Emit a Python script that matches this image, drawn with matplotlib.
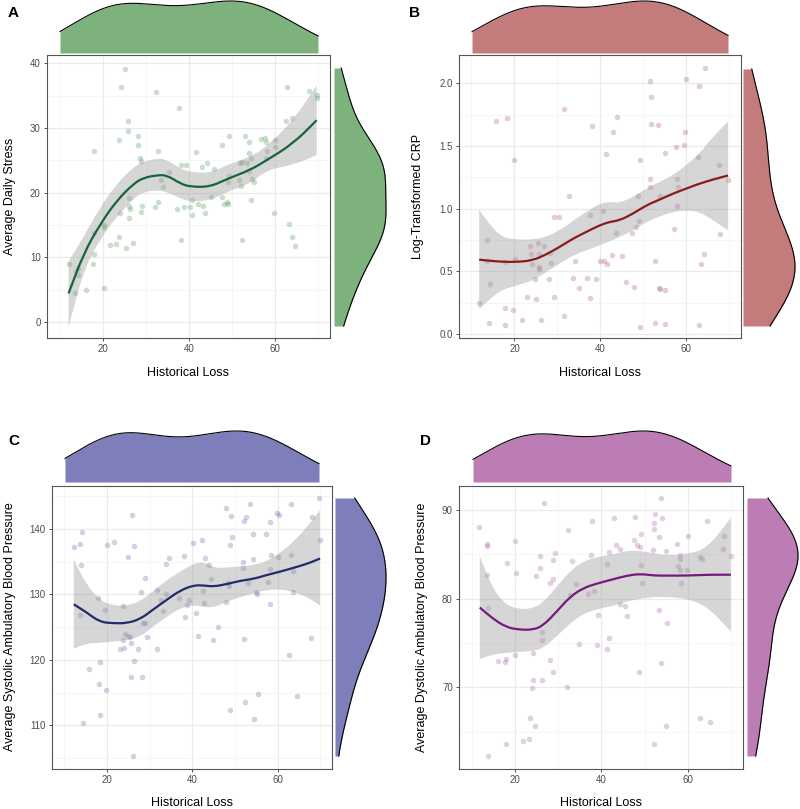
import numpy as np
import matplotlib
matplotlib.use("Agg")
import matplotlib.pyplot as plt
from matplotlib.ticker import MultipleLocator
from matplotlib.path import Path
from matplotlib.patches import PathPatch

plt.rcParams['font.family'] = ['Liberation Sans', 'DejaVu Sans']

W, H = 800, 809

# ---------------- Panel A: Average Daily Stress ----------------
a_pts = [(12.1,9.0),(13.9,7.9),(14.2,8.3),(14.4,7.2),(13.7,4.5),(16.2,5.0),(18.1,26.5),(17.9,13.8),
         (17.9,10.5),(17.8,8.9),(20.2,15.0),(20.4,14.7),(20.2,5.2),(21.8,11.9),(23.2,12.0),(23.8,13.2),
         (23.8,28.2),(24.2,36.3),(25.2,39.2),(24.1,16.9),(25.5,11.5),(25.9,31.1),(25.8,29.6),(26.0,19.1),
         (26.0,18.0),(26.2,16.0),(26.4,17.5),(27.0,12.2),(28.1,28.7),(28.3,27.4),(28.7,25.3),(28.9,24.9),
         (28.9,17.0),(29.2,17.9),(32.3,35.5),(32.9,26.4),(32.2,17.8),(32.8,18.6),(33.6,22.0),(34.1,20.9),
         (35.3,23.2),(37.8,33.1),(38.2,24.3),(39.4,24.2),(38.2,12.6),(37.3,17.4),(38.9,17.7),(40.3,17.8),
         (40.7,18.9),(40.6,16.6),(41.7,26.3),(42.1,18.3),(43.0,24.0),(43.2,17.9),(43.7,16.9),(44.1,24.6),
         (45.1,19.4),(45.9,23.6),(47.6,27.4),(47.6,19.4),(48.1,18.2),(48.8,18.6),(49.2,28.7),(49.2,22.6),
         (49.1,21.7),(49.1,18.2),(51.7,22.0),(51.8,24.6),(52.2,24.8),(52.0,21.0),(52.3,12.6),(53.1,28.7),
         (53.4,24.6),(54.0,27.8),(54.0,26.2),(54.0,23.4),(54.3,18.8),(54.5,25.3),(54.7,22.1),(55.1,21.7),
         (56.6,28.3),(57.6,28.5),(57.8,25.3),(57.9,27.9),(58.0,26.4),(59.8,16.8),(60.0,28.1),(60.0,27.0),
         (62.8,36.4),(62.6,31.1),(63.1,15.2),(64.0,31.5),(63.9,13.2),(64.6,11.8),(67.9,35.8),(69.6,35.1),
         (69.6,34.7)]
a_sx = [12.1, 15.6, 19.5, 23.3, 27.2, 29.5, 32.6, 34.9, 38.0, 40.3, 44.9, 48.8, 54.2, 58.0, 64.2, 69.6]
a_sy = [4.4, 10.6, 15.2, 18.8, 21.4, 22.3, 22.7, 22.7, 21.4, 20.9, 20.9, 22.1, 23.5, 25.0, 27.6, 31.2]
a_lo = [-0.8, 8.0, 12.9, 16.3, 19.1, 20.1, 20.4, 20.1, 19.1, 18.6, 18.8, 20.1, 21.4, 23.5, 24.3, 25.8]
a_hi = [9.3, 13.2, 17.8, 21.4, 24.0, 24.8, 25.3, 25.1, 23.7, 23.2, 23.0, 24.3, 25.5, 27.1, 31.2, 36.6]
a_yticks = [0, 10, 20, 30, 40]

# ---------------- Panel B: Log-Transformed CRP ----------------
b_pts = [(11.7,0.25),(13.6,0.75),(13.6,0.58),(14.2,0.40),(14.0,0.09),(15.7,1.70),(18.2,1.72),(17.9,0.21),
         (17.9,0.07),(17.9,0.575),(20.0,1.39),(19.6,0.19),(20.2,0.60),(21.8,0.11),(23.0,0.30),(23.7,0.70),
         (23.9,0.64),(24.1,0.56),(24.7,0.44),(24.9,0.28),(25.4,0.73),(25.7,0.64),(25.7,0.535),(25.8,0.52),
         (26.1,0.115),(26.8,0.70),(28.0,0.44),(28.2,0.65),(28.5,0.57),(29.1,0.935),(29.1,0.30),(30.3,0.935),
         (31.5,1.795),(31.5,0.145),(32.8,1.10),(33.6,0.445),(34.1,0.58),(35.1,0.37),(36.9,0.445),(37.5,0.95),
         (37.6,0.29),(38.1,1.66),(38.9,0.44),(39.8,0.58),(40.7,0.98),(40.9,0.58),(41.5,0.56),(41.4,1.44),
         (42.7,0.635),(42.9,1.61),(43.7,0.81),(43.8,1.73),(45.1,0.625),(45.9,0.415),(47.4,0.81),(47.8,0.375),
         (48.3,0.855),(48.7,1.10),(49.0,0.90),(49.1,1.39),(49.1,0.06),(51.6,2.02),(51.6,1.24),(51.5,1.17),
         (51.8,1.89),(51.8,1.675),(52.6,0.58),(52.8,0.09),(53.4,1.67),(53.6,0.365),(53.8,1.10),(53.8,0.36),
         (55.0,1.445),(55.0,0.35),(55.0,0.08),(57.0,0.84),(57.5,1.49),(57.7,1.24),(57.7,1.02),(58.0,1.17),
         (59.4,1.51),(59.6,1.61),(59.8,2.03),(62.6,1.41),(62.9,1.98),(62.9,0.07),(63.5,0.56),(64.1,0.64),
         (64.3,2.12),(67.5,1.35),(67.8,0.80),(69.6,1.23)]
b_sx = [11.8, 16.5, 20.4, 24.3, 27.4, 30.5, 33.6, 36.7, 39.8, 42.1, 44.5, 47.6, 50.7, 53.8, 56.9, 60.0, 63.1, 66.2, 69.7]
b_sy = [0.594, 0.578, 0.575, 0.589, 0.636, 0.695, 0.762, 0.815, 0.868, 0.895, 0.908, 0.961, 1.028, 1.073, 1.121, 1.161, 1.201, 1.233, 1.265]
b_lo = [0.20, 0.349, 0.386, 0.429, 0.495, 0.562, 0.628, 0.668, 0.708, 0.740, 0.775, 0.828, 0.895, 0.940, 0.975, 0.988, 0.975, 0.908, 0.828]
b_hi = [0.99, 0.775, 0.754, 0.754, 0.775, 0.828, 0.903, 0.975, 1.041, 1.055, 1.047, 1.094, 1.161, 1.214, 1.268, 1.348, 1.441, 1.574, 1.694]
b_yticks = [0.0, 0.5, 1.0, 1.5, 2.0]

# ---------------- Panel C: Systolic ----------------
c_pts = [(12.3,137.2),(13.7,137.8),(14.1,139.5),(13.8,134.5),(13.6,126.9),(14.4,110.3),(15.8,118.6),(17.8,129.5),
         (18.1,116.3),(18.4,119.7),(18.3,111.5),(19.6,127.6),(19.7,115.4),(20.0,137.6),(21.7,138.0),(23.0,121.7),
         (23.8,128.2),(23.8,123.0),(23.9,121.8),(24.2,124.0),(24.9,135.8),(25.0,123.7),(25.3,123.5),(25.6,122.6),
         (25.6,117.3),(25.8,142.1),(26.1,105.3),(26.3,137.4),(26.4,119.9),(27.3,121.6),(27.9,130.4),(28.3,117.4),
         (28.5,125.7),(28.8,125.6),(28.8,132.6),(29.4,123.5),(31.8,130.7),(31.8,121.6),(32.6,129.2),(33.1,127.4),
         (33.7,134.6),(33.8,130.0),(34.6,135.6),(36.8,129.5),(38.0,135.9),(38.2,126.6),(38.7,128.4),(39.3,129.2),
         (40.1,137.9),(40.9,127.2),(41.4,123.7),(42.2,138.4),(42.4,130.6),(42.7,128.7),(42.9,135.6),(43.8,134.5),
         (44.3,132.4),(44.9,123.1),(46.0,125.1),(47.8,143.3),(47.8,128.9),(48.3,131.7),(48.5,131.3),(48.9,137.6),
         (48.9,112.3),(49.0,142.0),(49.3,138.8),(51.8,134.9),(52.0,141.3),(51.8,134.1),(52.1,123.2),(52.3,113.6),
         (52.6,141.9),(53.1,131.7),(53.6,143.9),(54.1,139.3),(54.1,135.4),(54.4,111.0),(54.8,130.4),(55.1,130.1),
         (55.3,114.8),(57.3,139.3),(57.6,131.9),(58.1,141.1),(58.3,136.0),(58.1,133.9),(58.2,128.5),(59.7,142.5),
         (60.0,135.8),(60.3,142.1),(62.7,120.8),(63.1,143.8),(63.1,136.0),(63.6,133.6),(63.6,130.4),(64.5,114.4),
         (67.8,123.4),(68.0,141.8),(69.7,144.7),(69.8,138.3)]
c_sx = [12.2, 15.1, 18.3, 21.4, 24.5, 27.7, 30.8, 34.0, 37.1, 40.2, 42.6, 44.9, 48.1, 51.2, 54.4, 57.5, 60.6, 63.8, 66.9, 69.9]
c_sy = [128.5, 127.3, 125.8, 125.6, 125.6, 126.2, 127.7, 129.2, 130.6, 131.4, 131.4, 131.2, 131.6, 132.1, 132.4, 133.0, 133.5, 134.1, 134.7, 135.5]
c_lo = [121.7, 122.5, 122.6, 122.8, 123.0, 123.5, 125.1, 126.6, 127.9, 128.4, 128.1, 128.0, 128.9, 129.6, 130.2, 130.7, 130.8, 130.4, 129.6, 128.3]
c_hi = [135.3, 131.6, 129.1, 128.3, 128.3, 128.9, 130.5, 132.2, 133.5, 134.7, 135.0, 134.1, 134.1, 134.3, 134.5, 135.1, 136.4, 138.1, 140.4, 142.9]
c_yticks = [110, 120, 130, 140]

# ---------------- Panel D: Diastolic ----------------
d_pts = [(11.7,88.1),(13.6,86.2),(13.6,85.9),(13.5,82.7),(13.7,79.0),(13.9,62.3),(16.0,73.0),(17.9,73.2),
         (17.7,72.9),(18.3,84.0),(17.9,63.6),(20.1,86.5),(20.2,82.9),(20.1,73.6),(21.9,64.0),(23.3,64.2),
         (23.6,66.5),(24.0,69.9),(24.1,70.8),(24.1,73.9),(24.7,65.7),(24.9,82.6),(25.8,84.8),(25.8,83.5),
         (26.2,76.2),(26.3,75.3),(26.3,70.8),(26.8,90.8),(28.2,73.1),(28.2,81.8),(28.8,84.4),(28.9,82.2),
         (29.2,85.1),(28.8,71.7),(32.1,70.0),(32.2,87.7),(33.1,84.3),(32.7,80.4),(34.2,81.7),(34.8,74.9),
         (37.0,80.5),(37.7,84.9),(37.9,88.8),(38.2,80.9),(38.9,74.8),(39.3,78.2),(41.2,74.3),(41.2,83.9),
         (41.7,75.6),(41.8,85.3),(43.0,89.1),(43.4,86.1),(44.2,79.4),(44.3,85.6),(45.4,79.2),(45.9,78.0),
         (47.6,86.6),(47.7,89.2),(48.3,86.1),(48.8,85.8),(48.7,71.7),(49.1,87.3),(49.2,83.8),(49.4,81.8),
         (51.8,85.5),(52.1,88.5),(52.2,87.9),(52.4,89.6),(52.1,63.6),(53.2,87.0),(53.2,78.7),(53.8,72.8),
         (53.8,91.3),(54.1,89.1),(55.0,85.4),(55.2,77.3),(54.8,65.6),(57.4,86.2),(57.7,83.7),(58.1,84.9),
         (58.1,84.5),(58.1,83.2),(58.3,81.8),(59.8,83.2),(60.1,87.1),(62.8,84.7),(63.3,84.5),(62.8,66.5),
         (64.3,88.8),(65.0,66.1),(68.1,85.6),(68.4,87.1),(69.9,84.8)]
d_sx = [11.9, 14.8, 17.9, 21.0, 24.1, 26.4, 29.6, 32.7, 35.8, 38.9, 42.8, 45.9, 49.0, 52.1, 55.2, 59.8, 64.5, 69.9]
d_sy = [79.0, 77.8, 76.8, 76.5, 76.5, 76.9, 78.5, 80.2, 81.2, 81.7, 82.2, 82.6, 82.8, 82.6, 82.6, 82.6, 82.7, 82.7]
d_lo = [73.2, 73.7, 73.9, 74.0, 74.1, 74.4, 75.7, 77.2, 78.3, 78.8, 79.2, 79.7, 80.0, 80.2, 80.2, 80.0, 79.1, 76.3]
d_hi = [84.8, 81.2, 79.3, 78.8, 78.9, 79.5, 81.3, 83.1, 84.2, 84.7, 85.0, 85.4, 85.4, 85.1, 84.9, 85.0, 85.7, 89.1]
d_yticks = [70, 80, 90]

x_ticks = [20, 40, 60]
x_label = "Historical Loss"

panels = [
    dict(letter="A", pts=a_pts, sx=a_sx, sy=a_sy, lo=a_lo, hi=a_hi, yticks=a_yticks,
         ylabel="Average Daily Stress", ylim=(-2.5, 41.3), yfmt="{:.0f}",
         pt="#3f8f4a", line="#16643a", fill="#7db27d",
         main=(47, 55, 330, 338), top=(60, 1, 318, 53), right=(334, 68, 386, 326),
         lab=(8, 13), ylab=(10, 196), xlab=(188, 373)),
    dict(letter="B", pts=b_pts, sx=b_sx, sy=b_sy, lo=b_lo, hi=b_hi, yticks=b_yticks,
         ylabel="Log-Transformed CRP", ylim=(-0.03, 2.225), yfmt="{:.1f}",
         pt="#a05060", line="#8b1a1a", fill="#c47b7b",
         main=(459, 55, 741, 338), top=(472, 1, 728, 53), right=(743, 69, 795, 326),
         lab=(409, 13), ylab=(418, 196), xlab=(600, 373)),
    dict(letter="C", pts=c_pts, sx=c_sx, sy=c_sy, lo=c_lo, hi=c_hi, yticks=c_yticks,
         ylabel="Average Systolic Ambulatory Blood Pressure", ylim=(103.3, 146.6), yfmt="{:.0f}",
         pt="#5a5aa8", line="#222a6a", fill="#7e7eba",
         main=(52, 486, 332, 769), top=(65, 431, 319, 482), right=(335, 498, 386, 756),
         lab=(8, 441), ylab=(10, 627), xlab=(192, 803)),
    dict(letter="D", pts=d_pts, sx=d_sx, sy=d_sy, lo=d_lo, hi=d_hi, yticks=d_yticks,
         ylabel="Average Dystolic Ambulatory Blood Pressure", ylim=(60.8, 92.7), yfmt="{:.0f}",
         pt="#a050a0", line="#76197c", fill="#bc7cb4",
         main=(459, 486, 743, 769), top=(473, 431, 731, 482), right=(747, 498, 798, 756),
         lab=(420, 441), ylab=(422, 627), xlab=(601, 803)),
]

KDE_ADJUST = 1.35


def px_axes(fig, box):
    x0, y0, x1, y1 = box
    return fig.add_axes([x0 / W, 1 - y1 / H, (x1 - x0) / W, (y1 - y0) / H])


def kde(v, grid, adjust=KDE_ADJUST):
    v = np.asarray(v, float)
    n = len(v)
    sd = v.std(ddof=1)
    q75, q25 = np.percentile(v, [75, 25])
    bw = adjust * 0.9 * min(sd, (q75 - q25) / 1.34) * n ** (-0.2)
    z = (grid[:, None] - v[None, :]) / bw
    return np.exp(-0.5 * z ** 2).sum(axis=1) / (n * bw * np.sqrt(2 * np.pi))


def smooth_verts(x, y):
    pts = list(zip(x, y))
    n = len(pts)
    mids = [((x[i] + x[i + 1]) / 2, (y[i] + y[i + 1]) / 2) for i in range(n - 1)]
    verts = [pts[0], mids[0]]
    codes = [Path.MOVETO, Path.LINETO]
    for i in range(1, n - 1):
        verts += [pts[i], mids[i]]
        codes += [Path.CURVE3, Path.CURVE3]
    verts.append(pts[-1])
    codes.append(Path.LINETO)
    return verts, codes


fig = plt.figure(figsize=(W / 100, H / 100), dpi=100)
fig.patch.set_facecolor("white")

for p in panels:
    pts = np.array(p["pts"])
    xs, ys = pts[:, 0], pts[:, 1]
    ax = px_axes(fig, p["main"])
    ax.set_xlim(7.1, 72.7)
    ax.set_ylim(*p["ylim"])
    ax.set_xticks(x_ticks)
    ax.set_yticks(p["yticks"])
    ax.set_yticklabels([p["yfmt"].format(t) for t in p["yticks"]])
    ax.xaxis.set_minor_locator(MultipleLocator(10))
    yt = p["yticks"]
    ax.yaxis.set_minor_locator(MultipleLocator((yt[1] - yt[0]) / 2))
    ax.grid(which="major", color="#ebebeb", lw=0.9, zorder=0)
    ax.grid(which="minor", color="#f3f3f3", lw=0.5, zorder=0)
    ax.set_axisbelow(True)
    ax.tick_params(which="major", length=2.5, width=0.6, color="#333333",
                   labelsize=7, labelcolor="#4d4d4d", pad=2)
    ax.tick_params(which="minor", length=0)
    for s in ax.spines.values():
        s.set_color("#555555")
        s.set_linewidth(0.8)
    ax.scatter(xs, ys, s=16, color=p["pt"], alpha=0.28, lw=0, zorder=2)

    # confidence ribbon
    uv, uc = smooth_verts(p["sx"], p["hi"])
    lv, lc = smooth_verts(p["sx"][::-1], p["lo"][::-1])
    lc = [Path.LINETO] + lc[1:]
    rib = Path(uv + lv + [uv[0]], uc + lc + [Path.CLOSEPOLY])
    ax.add_patch(PathPatch(rib, facecolor="#999999", alpha=0.4, lw=0, zorder=3))
    # fitted line
    fv, fc = smooth_verts(p["sx"], p["sy"])
    ax.add_patch(PathPatch(Path(fv, fc), facecolor="none", edgecolor=p["line"],
                           lw=1.6, zorder=4, capstyle="butt"))

    # top marginal density
    axt = px_axes(fig, p["top"])
    gx = np.linspace(xs.min(), xs.max(), 512)
    dx = kde(xs, gx)
    axt.fill_between(gx, 0, dx, color=p["fill"], lw=0)
    axt.plot(gx, dx, color="black", lw=0.8, clip_on=False)
    axt.set_xlim(gx[0], gx[-1])
    axt.set_ylim(0, dx.max())
    axt.axis("off")

    # right marginal density
    axr = px_axes(fig, p["right"])
    gy = np.linspace(ys.min(), ys.max(), 512)
    dy = kde(ys, gy)
    axr.fill_betweenx(gy, 0, dy, color=p["fill"], lw=0)
    axr.plot(dy, gy, color="black", lw=0.8, clip_on=False)
    axr.set_ylim(gy[0], gy[-1])
    axr.set_xlim(0, dy.max())
    axr.axis("off")

    fig.text(p["lab"][0] / W, 1 - p["lab"][1] / H, p["letter"], fontsize=11,
             fontweight="bold", ha="left", va="center")
    fig.text(p["ylab"][0] / W, 1 - p["ylab"][1] / H, p["ylabel"], fontsize=9,
             rotation=90, ha="center", va="center")
    fig.text(p["xlab"][0] / W, 1 - p["xlab"][1] / H, x_label, fontsize=9,
             ha="center", va="center")

fig.savefig("out.png", dpi=100, facecolor="white")
